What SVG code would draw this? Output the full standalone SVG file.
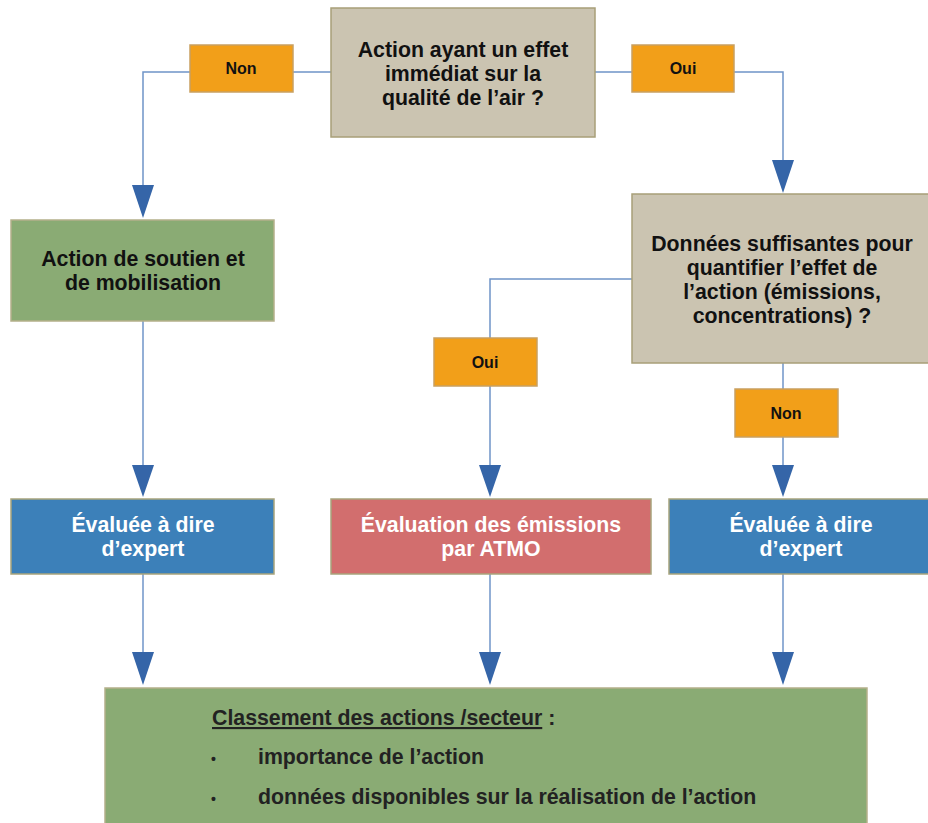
<svg xmlns="http://www.w3.org/2000/svg" width="928" height="823" viewBox="0 0 928 823">
<style>
.q{fill:#cbc4b1;stroke:#a89f78;stroke-width:1.5}
.g{fill:#8aab74;stroke:#b4b08a;stroke-width:1.5}
.b{fill:#3c80b9;stroke:#a8a47c;stroke-width:1.5}
.r{fill:#d26e6e;stroke:#a8a47c;stroke-width:1.5}
.o{fill:#f29f19;stroke:#c9a060;stroke-width:1.5}
.t{font-family:"Liberation Sans",Arial,sans-serif;font-weight:bold;font-size:21.3px;fill:#111;text-anchor:middle}
.w{fill:#fff}
.s{font-family:"Liberation Sans",Arial,sans-serif;font-weight:bold;font-size:16px;fill:#111;text-anchor:middle}
.c{fill:none;stroke:#6f94c8;stroke-width:1.5}
.h{fill:#3565a8}
.l{font-family:"Liberation Sans",Arial,sans-serif;font-weight:bold;font-size:21.3px;fill:#222}
</style>
<rect width="928" height="823" fill="#fff"/>
<g id="connectors">
<path class="c" d="M331 72H143V190"/>
<path class="c" d="M595 72H783V165"/>
<path class="c" d="M632 279H490V470"/>
<path class="c" d="M783 363V470"/>
<path class="c" d="M143 321V470"/>
<path class="c" d="M143 574V657"/>
<path class="c" d="M490 574V657"/>
<path class="c" d="M783 574V657"/>
<path class="h" d="M132 185H154L143 218Z"/>
<path class="h" d="M772 160H794L783 193Z"/>
<path class="h" d="M132 465H154L143 497Z"/>
<path class="h" d="M479 465H501L490 497Z"/>
<path class="h" d="M772 465H794L783 497Z"/>
<path class="h" d="M132 652H154L143 685Z"/>
<path class="h" d="M479 652H501L490 685Z"/>
<path class="h" d="M772 652H794L783 685Z"/>
</g>
<g id="q1">
<rect class="q" x="331" y="8" width="264" height="129"/>
<text class="t" x="463" y="57">Action ayant un effet</text>
<text class="t" x="463" y="81">immédiat sur la</text>
<text class="t" x="463" y="105">qualité de l’air ?</text>
</g>
<g id="non1">
<rect class="o" x="190" y="45" width="103" height="47"/>
<text class="s" x="241" y="74">Non</text>
</g>
<g id="oui1">
<rect class="o" x="632" y="45" width="102" height="47"/>
<text class="s" x="683" y="74">Oui</text>
</g>
<g id="soutien">
<rect class="g" x="11" y="220" width="263" height="101"/>
<text class="t" x="143" y="266">Action de soutien et</text>
<text class="t" x="143" y="290">de mobilisation</text>
</g>
<g id="q2">
<rect class="q" x="632" y="194" width="300" height="169"/>
<text class="t" x="782" y="251">Données suffisantes pour</text>
<text class="t" x="782" y="275">quantifier l’effet de</text>
<text class="t" x="782" y="299">l’action (émissions,</text>
<text class="t" x="782" y="323">concentrations) ?</text>
</g>
<g id="oui2">
<rect class="o" x="434" y="338" width="103" height="48"/>
<text class="s" x="485" y="368">Oui</text>
</g>
<g id="non2">
<rect class="o" x="735" y="389" width="103" height="48"/>
<text class="s" x="786" y="419">Non</text>
</g>
<g id="expert1">
<rect class="b" x="11" y="499" width="263" height="75"/>
<text class="t w" x="143" y="532">Évaluée à dire</text>
<text class="t w" x="143" y="556">d’expert</text>
</g>
<g id="atmo">
<rect class="r" x="331" y="499" width="320" height="75"/>
<text class="t w" x="491" y="532">Évaluation des émissions</text>
<text class="t w" x="491" y="556">par ATMO</text>
</g>
<g id="expert2">
<rect class="b" x="669" y="499" width="263" height="75"/>
<text class="t w" x="801" y="532">Évaluée à dire</text>
<text class="t w" x="801" y="556">d’expert</text>
</g>
<g id="classement">
<rect class="g" x="105" y="688" width="762" height="140"/>
<text class="l" x="212" y="725"><tspan text-decoration="underline">Classement des actions /secteur</tspan> :</text>
<text class="l" x="211" y="764" style="font-size:14px">•</text>
<text class="l" x="258" y="764">importance de l’action</text>
<text class="l" x="211" y="804" style="font-size:14px">•</text>
<text class="l" x="258" y="804">données disponibles sur la réalisation de l’action</text>
</g>
</svg>
